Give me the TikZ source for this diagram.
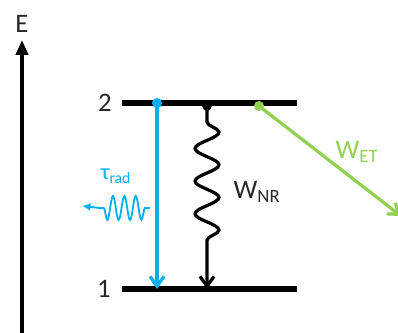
\documentclass[tikz,border=0pt]{standalone}
\usepackage{fontspec}
\setmainfont{Carlito}
\usetikzlibrary{arrows.meta, positioning, decorations.pathmorphing}
\definecolor{radblue}{RGB}{0,176,240}
\definecolor{etgreen}{RGB}{146,208,80}
\definecolor{inkgray}{RGB}{38,38,38}

\begin{document}
\begin{tikzpicture}[x=0.025cm, y=-0.025cm,
    level/.style={line width=3.6pt},
    lbl/.style={font=\fontsize{19}{22}\selectfont, text=inkgray, inner sep=0pt},
    trans/.style={line width=2.3pt, -{Straight Barb[length=7pt, width=10pt, line width=2.3pt]}}]
  \useasboundingbox (0,0) rectangle (398,332);
  % energy axis
  \coordinate (ebot) at (22,345);
  \coordinate (etop) at (22,40);
  \draw[line width=2.8pt, -{Triangle[length=10.5pt, width=8.5pt]}] (ebot) -- (etop);
  \node[lbl] (elabel) at (22,24) {E};
  % levels
  \coordinate (upA) at (122,103);
  \coordinate (upB) at (297,103);
  \coordinate (loA) at (122,289);
  \coordinate (loB) at (297,289);
  \draw[level] (upA) -- (upB);
  \draw[level] (loA) -- (loB);
  \node[lbl] (two) at (105,103) {2};
  \node[lbl] (one) at (104,289) {1};
  % radiative decay
  \coordinate (radtop) at (157,103);
  \coordinate (radbot) at (157,289);
  \fill[radblue] (radtop) circle (3.6pt);
  \draw[trans, radblue] (radtop) -- (radbot);
  \node[lbl, text=radblue, font=\fontsize{16}{18}\selectfont] (taurad) at (116,176) {τ\textsubscript{rad}};
  \coordinate (phR) at (150,208);
  \coordinate (phA) at (145,208);
  \coordinate (phB) at (100,208);
  \coordinate (phtip) at (82,206);
  \draw[radblue, line width=1.3pt, -{Latex[length=6pt, width=5.5pt]}]
    (phR) -- (phA) decorate[decoration={snake, amplitude=8.5pt, segment length=8.1pt}] {-- (phB)} -- (phtip);
  % non-radiative decay
  \coordinate (nrtop) at (207,106);
  \coordinate (nrA) at (207,122);
  \coordinate (nrB) at (207,254);
  \coordinate (nrbot) at (207,289);
  \fill (nrtop) circle (3.4pt);
  \draw[trans]
    (nrtop) -- (nrA) decorate[decoration={snake, amplitude=8.5pt, segment length=23.2pt}] {-- (nrB)} -- (nrbot);
  \node[lbl] (wnr) at (257,192) {W\textsubscript{NR}};
  % energy transfer
  \coordinate (ettop) at (259,106);
  \coordinate (etend) at (401,216);
  \fill[etgreen] (ettop) circle (3.6pt);
  \draw[trans, etgreen] (ettop) -- (etend);
  \node[lbl, text=etgreen] (wet) at (357,152) {W\textsubscript{ET}};
\end{tikzpicture}
\end{document}
